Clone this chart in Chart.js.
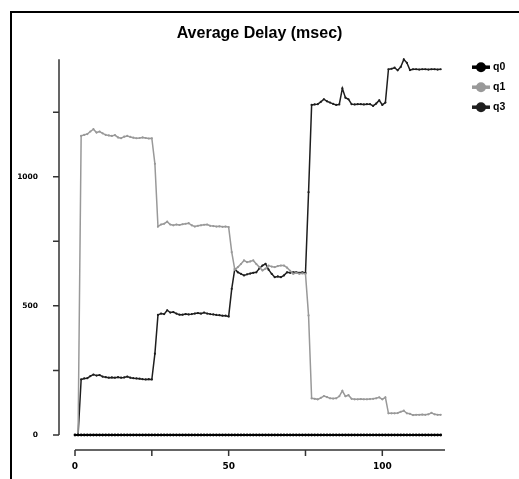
<!DOCTYPE html>
<html>
<head>
<meta charset="utf-8">
<script src="https://cdn.jsdelivr.net/npm/chart.js@4.4.1/dist/chart.umd.min.js"></script>
<style>
  html, body { margin: 0; padding: 0; background: #fff; }
  #wrap { position: relative; width: 519px; height: 479px; overflow: hidden; }
  #frame { position: absolute; left: 10px; top: 11px; width: 600px; height: 600px;
           border-left: 2px solid #000; border-top: 2px solid #000; pointer-events: none; }
  canvas { position: absolute; left: 0; top: 0; }
</style>
</head>
<body>
<div id="wrap">
  <canvas id="c" width="519" height="479"></canvas>
  <div id="frame"></div>
</div>
<script>
const chartTitle = "Average Delay (msec)";
const seriesNames = ["q0", "q1", "q3"];
const xValues = [0,1,2,3,4,5,6,7,8,9,10,11,12,13,14,15,16,17,18,19,
  20,21,22,23,24,25,26,27,28,29,30,31,32,33,34,35,36,37,38,39,
  40,41,42,43,44,45,46,47,48,49,50,51,52,53,54,55,56,57,58,59,
  60,61,62,63,64,65,66,67,68,69,70,71,72,73,74,75,76,77,78,79,
  80,81,82,83,84,85,86,87,88,89,90,91,92,93,94,95,96,97,98,99,
  100,101,102,103,104,105,106,107,108,109,110,111,112,113,114,115,116,117,118,119];
const q0 = [0,0,0,0,0,0,0,0,0,0,0,0,0,0,0,0,0,0,0,0,
  0,0,0,0,0,0,0,0,0,0,0,0,0,0,0,0,0,0,0,0,
  0,0,0,0,0,0,0,0,0,0,0,0,0,0,0,0,0,0,0,0,
  0,0,0,0,0,0,0,0,0,0,0,0,0,0,0,0,0,0,0,0,
  0,0,0,0,0,0,0,0,0,0,0,0,0,0,0,0,0,0,0,0,
  0,0,0,0,0,0,0,0,0,0,0,0,0,0,0,0,0,0,0,0];
const q1 = [0,0,1158,1162,1165,1175,1184,1171,1175,1168,1162,1160,1158,1161,1152,1149,1155,1158,1154,1151,
  1149,1150,1152,1150,1148,1149,1050,807,815,818,826,815,812,815,813,816,818,820,812,807,
  810,812,814,815,810,809,807,808,806,807,805,708,640,650,662,676,669,672,676,662,
  650,637,644,656,652,650,654,656,656,648,636,624,628,624,626,624,463,142,140,138,
  144,151,147,142,141,142,150,171,150,154,140,138,138,139,138,138,139,140,142,146,
  138,146,84,84,84,85,90,94,84,82,77,78,78,79,78,80,86,80,78,78];
const q3 = [0,0,215,219,220,228,234,230,232,226,224,222,223,222,224,222,223,226,222,220,
  219,218,216,215,216,215,315,465,470,468,483,474,476,470,466,466,468,467,468,470,
  472,470,474,470,468,467,465,464,462,462,459,566,643,630,624,618,622,625,628,630,
  645,656,663,640,624,611,614,611,618,630,628,630,630,628,630,627,940,1278,1280,1281,
  1290,1300,1292,1287,1282,1278,1280,1342,1306,1300,1281,1280,1281,1281,1280,1281,1281,1274,1283,1296,
  1278,1287,1416,1418,1422,1412,1425,1454,1441,1413,1416,1416,1415,1416,1416,1415,1416,1416,1415,1416];
const seriesColors = ["#000000", "#999999", "#1e1e1e"];
const xTickValues = [0, 25, 50, 75, 100];
const xTickLabels = ["0", "", "50", "", "100"];
const yTickValues = [0, 250, 500, 750, 1000, 1250];
const yTickLabels = ["0", "", "500", "", "1000", ""];

const xTickFont = { family: "'DejaVu Sans', sans-serif", size: 9, weight: "bold" };
const yTickFont = { family: "'DejaVu Sans', sans-serif", size: 7.5, weight: "bold" };

const detachedAxes = {
  id: "detachedAxes",
  afterDraw(chart) {
    const ctx = chart.ctx, a = chart.chartArea;
    const xs = chart.scales.x, ys = chart.scales.y;
    const axX = a.left - 16, axY = a.bottom + 15;
    ctx.save();
    ctx.strokeStyle = "#333";
    ctx.lineWidth = 1.5;
    ctx.beginPath();
    ctx.moveTo(axX, ys.getPixelForValue(ys.max));
    ctx.lineTo(axX, ys.getPixelForValue(0));
    yTickValues.forEach(v => {
      const p = ys.getPixelForValue(v);
      ctx.moveTo(axX - 6, p); ctx.lineTo(axX, p);
    });
    ctx.moveTo(xs.getPixelForValue(0), axY);
    ctx.lineTo(xs.getPixelForValue(xs.max), axY);
    xTickValues.forEach(v => {
      const p = xs.getPixelForValue(v);
      ctx.moveTo(p, axY); ctx.lineTo(p, axY + 6);
    });
    ctx.stroke();
    ctx.restore();
  }
};

const sideLegend = {
  id: "sideLegend",
  afterDraw(chart) {
    const ctx = chart.ctx, a = chart.chartArea;
    const x0 = a.right + 27;
    ctx.save();
    chart.data.datasets.forEach((ds, i) => {
      const y = a.top + 8 + i * 20;
      ctx.strokeStyle = ds.borderColor;
      ctx.fillStyle = ds.borderColor;
      ctx.lineWidth = 3.5;
      ctx.beginPath();
      ctx.moveTo(x0, y); ctx.lineTo(x0 + 18, y);
      ctx.stroke();
      ctx.beginPath();
      ctx.arc(x0 + 9, y, 5, 0, Math.PI * 2);
      ctx.fill();
      ctx.fillStyle = "#000";
      ctx.font = "bold 10.5px 'Liberation Sans', Arial, sans-serif";
      ctx.textBaseline = "middle";
      ctx.textAlign = "left";
      ctx.fillText(ds.label, x0 + 21, y);
    });
    ctx.restore();
  }
};

const seriesData = [q0, q1, q3];
new Chart(document.getElementById("c"), {
  type: "line",
  data: {
    labels: xValues,
    datasets: seriesNames.map((name, i) => ({
      label: name,
      data: seriesData[i],
      borderColor: seriesColors[i],
      backgroundColor: seriesColors[i],
      borderWidth: i === 0 ? 2 : 1.5,
      pointRadius: i === 0 ? 1.4 : 1.1,
      pointHoverRadius: 1.1,
      pointBorderWidth: 0,
      tension: 0,
      clip: false
    }))
  },
  options: {
    responsive: false,
    animation: false,
    devicePixelRatio: 1,
    layout: { padding: 0 },
    plugins: {
      legend: { display: false },
      tooltip: { enabled: false },
      title: {
        display: true,
        text: chartTitle,
        color: "#000",
        font: { family: "'Liberation Sans', Arial, sans-serif", size: 16, weight: "bold" },
        padding: { top: 24, bottom: 16 }
      }
    },
    scales: {
      x: {
        type: "linear",
        min: 0,
        max: 120.4,
        grid: { display: false, drawTicks: false },
        border: { display: false },
        afterBuildTicks: s => { s.ticks = xTickValues.map(v => ({ value: v })); },
        afterFit: s => { s.height = 44; },
        ticks: {
          autoSkip: false,
          maxRotation: 0,
          padding: 26,
          color: "#000",
          font: xTickFont,
          callback: (v, idx) => xTickLabels[idx]
        }
      },
      y: {
        type: "linear",
        min: 0,
        max: 1455,
        grid: { display: false, drawTicks: false },
        border: { display: false },
        afterBuildTicks: s => { s.ticks = yTickValues.map(v => ({ value: v })); },
        afterFit: s => { s.width = 75; },
        ticks: {
          autoSkip: false,
          padding: 37,
          color: "#000",
          font: yTickFont,
          callback: (v, idx) => yTickLabels[idx]
        }
      },
      legendSpace: {
        axis: "y",
        type: "linear",
        position: "right",
        display: true,
        grid: { display: false, drawTicks: false },
        border: { display: false },
        ticks: { display: false },
        afterFit: s => { s.width = 74; }
      }
    }
  },
  plugins: [detachedAxes, sideLegend]
});
</script>
</body>
</html>
